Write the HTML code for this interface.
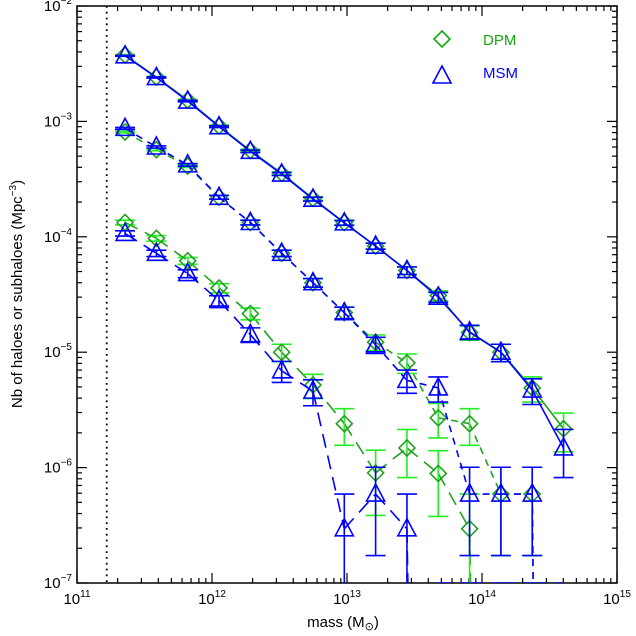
<!DOCTYPE html>
<html><head><meta charset="utf-8"><style>
html,body{margin:0;padding:0;background:#fff;}
svg{display:block;font-family:"Liberation Sans",sans-serif;}
</style></head><body>
<svg id="chart" width="636" height="636" viewBox="0 0 636 636">
<defs><clipPath id="plotclip"><rect x="77" y="6" width="540" height="577"/></clipPath></defs>
<g id="axes"></g>
<g id="series" clip-path="url(#plotclip)"></g>
<g id="legend">
  <path d="M442 31 L450 39 L442 47 L434 39 Z" fill="none" stroke="#11aa11" stroke-width="1.6"/>
  <text x="483" y="45" font-size="15" fill="#11aa11">DPM</text>
  <path d="M442 66 L451 83 L433 83 Z" fill="none" stroke="#0000ff" stroke-width="1.6"/>
  <text x="483" y="78" font-size="15" fill="#0000ff">MSM</text>
</g>
<text x="343" y="627" font-size="15" text-anchor="middle">mass (M<tspan font-family="DejaVu Sans" font-size="11" dy="3">⊙</tspan><tspan dy="-3">)</tspan></text>
<text transform="translate(22,294) rotate(-90)" font-size="15" text-anchor="middle">Nb of haloes or subhaloes (Mpc<tspan font-size="10" dy="-6">−3</tspan><tspan dy="6">)</tspan></text>
</svg>
<script>
const massLog = [11.356,11.588,11.82,12.052,12.284,12.516,12.748,12.98,13.212,13.444,13.676,13.908,14.14,14.372,14.604];
const topDPM = [3.76e-3,2.42e-3,1.53e-3,9.1e-4,5.6e-4,3.55e-4,2.15e-4,1.33e-4,8.3e-5,5.1e-5,3.1e-5,1.48e-5,1.0e-5,4.9e-6,2.17e-6];
const topMSM = [3.7e-3,2.4e-3,1.5e-3,9.0e-4,5.5e-4,3.5e-4,2.12e-4,1.32e-4,8.3e-5,5.1e-5,3.0e-5,1.5e-5,1.0e-5,4.7e-6,1.48e-6];
const midDPM = [8.1e-4,5.7e-4,4.1e-4,2.2e-4,1.33e-4,7.2e-5,4.0e-5,2.2e-5,1.22e-5,8.1e-6,2.7e-6,2.4e-6,5.9e-7,5.9e-7,0];
const midMSM = [8.7e-4,6.0e-4,4.2e-4,2.2e-4,1.33e-4,7.2e-5,4.0e-5,2.2e-5,1.16e-5,5.7e-6,4.9e-6,5.9e-7,5.9e-7,5.9e-7,0];
const botDPM = [1.33e-4,9.7e-5,6.2e-5,3.6e-5,2.16e-5,1.0e-5,5.2e-6,2.4e-6,9.0e-7,1.48e-6,8.9e-7,2.95e-7,0,0,0];
const botMSM = [1.07e-4,7.2e-5,4.8e-5,2.8e-5,1.42e-5,6.9e-6,4.6e-6,2.95e-7,5.9e-7,2.95e-7,0,0,0,0,0];
const unitDensity = 2.95e-7;
const xTickLabels = ["11","12","13","14","15"];
const yTickLabels = ["-2","-3","-4","-5","-6","-7"];

const NS="http://www.w3.org/2000/svg";
const X0=77,X1=617,Y0=6,Y1=583;
function xs(lg){return X0+(lg-11)/4*(X1-X0);}
function ys(v){return Y0+(-2-Math.log10(v))/5*(Y1-Y0);}
function mk(tag,attrs,parent){const e=document.createElementNS(NS,tag);for(const k in attrs)e.setAttribute(k,attrs[k]);parent.appendChild(e);return e;}
const axes=document.getElementById('axes');
const ser=document.getElementById('series');

const frame=mk('rect',{x:X0,y:Y0,width:X1-X0,height:Y1-Y0,fill:'none',stroke:'#000','stroke-width':1.5},axes);


const dl=mk('line',{x1:xs(11.22),x2:xs(11.22),y1:Y0,y2:Y1,stroke:'#000','stroke-width':1.8,'stroke-dasharray':'1.8 4'},axes);



for(let d=11;d<=15;d++){
  for(let m=1;m<=9;m++){
    if(d===15&&m>1)break;
    const lg=d+Math.log10(m),x=xs(lg),len=m===1?10:5;
    mk('line',{x1:x,x2:x,y1:Y1,y2:Y1-len,stroke:'#000','stroke-width':1.2},axes);
    mk('line',{x1:x,x2:x,y1:Y0,y2:Y0+len,stroke:'#000','stroke-width':1.2},axes);
  }
}
xTickLabels.forEach((t,i)=>{
  const x=xs(11+i);
  const tx=mk('text',{x:x,y:604,'font-size':15,'text-anchor':'middle'},axes);
  
  
  tx.textContent='10';
  const sp=mk('tspan',{'font-size':10,dy:-7},tx);sp.textContent=t;
});
for(let d=-7;d<=-2;d++){
  for(let m=1;m<=9;m++){
    if(d===-2&&m>1)break;
    const v=m*Math.pow(10,d),y=ys(v),len=m===1?10:5;
    mk('line',{x1:X0,x2:X0+len,y1:y,y2:y,stroke:'#000','stroke-width':1.2},axes);
    mk('line',{x1:X1,x2:X1-len,y1:y,y2:y,stroke:'#000','stroke-width':1.2},axes);
  }
}
yTickLabels.forEach((t,i)=>{
  const y=ys(Math.pow(10,-2-i));
  const tx=mk('text',{x:72,y:y+5,'font-size':15,'text-anchor':'end'},axes);
  
  
  tx.textContent='10';
  const sp=mk('tspan',{'font-size':10,dy:-7},tx);sp.textContent=t.replace('-','−');
});

function drawSeries(vals,lineColor,errColor,dash,marker,name){
  const g=mk('g',{},ser);
  
  
  let d='';
  for(let i=0;i<vals.length-1;i++){
    const a=vals[i],b=vals[i+1],xa=xs(massLog[i]),xb=xs(massLog[i+1]);
    const bot=Y1+5;
    if(a>0&&b>0)d+=`M${xa} ${ys(a)} L${xb} ${ys(b)} `;
    else if(a>0)d+=`M${xa} ${ys(a)} L${xa+1} ${bot} `;
    else if(b>0)d+=`M${xb-1} ${bot} L${xb} ${ys(b)} `;
    else d+=`M${xa} ${Y1} L${xb} ${Y1} `;
  }
  const p=mk('path',{d:d,fill:'none',stroke:lineColor,'stroke-width':1.6,'stroke-dasharray':dash},g);
  
  
  vals.forEach((v,i)=>{
    if(!(v>0))return;
    const x=xs(massLog[i]),y=ys(v);
    const e=Math.sqrt(v*unitDensity);
    const hi=ys(v+e),lo=v-e>1e-9?ys(v-e):Y1+10;
    const eb=mk('path',{d:`M${x} ${hi} L${x} ${lo} M${x-10} ${hi} L${x+10} ${hi} M${x-10} ${lo} L${x+10} ${lo}`,fill:'none',stroke:errColor,'stroke-width':1.6},g);
    
    
    let md;
    if(marker==='diamond')md=`M${x} ${y-8} L${x+8} ${y} L${x} ${y+8} L${x-8} ${y} Z`;
    else md=`M${x} ${y-10} L${x+9} ${y+7} L${x-9} ${y+7} Z`;
    const m=mk('path',{d:md,fill:'none',stroke:lineColor,'stroke-width':1.6},g);
    
    
  });
}
const G='#22a022',GE='#22ee22',B='#0000ff';
drawSeries(botDPM,G,GE,'14 8','diamond','subhalo-dpm');
drawSeries(midDPM,G,GE,'7 6','diamond','middle-dpm');
drawSeries(topDPM,G,GE,'none','diamond','halo-dpm');
drawSeries(botMSM,B,B,'14 8','triangle','subhalo-msm');
drawSeries(midMSM,B,B,'7 6','triangle','middle-msm');
drawSeries(topMSM,B,B,'none','triangle','halo-msm');
</script>
</body></html>
